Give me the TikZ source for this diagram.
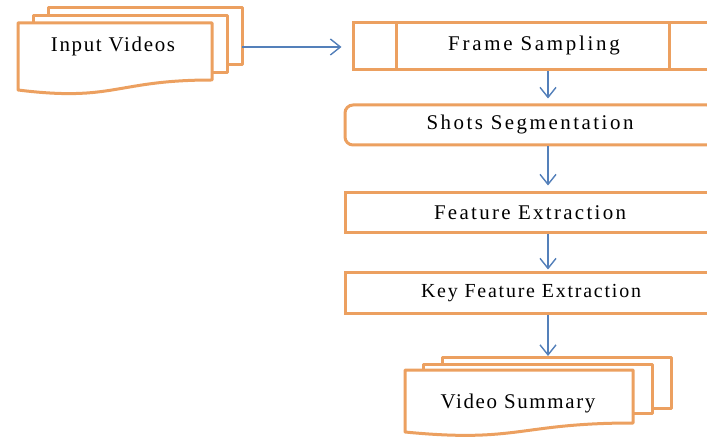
\documentclass[tikz,border=0pt]{standalone}
\usepackage{fontspec}
\setmainfont{Liberation Serif}
\usetikzlibrary{arrows.meta}
\definecolor{boxorange}{RGB}{236,160,96}
\definecolor{arrblue}{RGB}{84,128,186}
\tikzset{
  procbox/.style={draw=boxorange, line width=3bp, fill=white, inner sep=0pt},
  lbl/.style n args={2}{font=\fontsize{#1}{#1}\selectfont\addfontfeature{LetterSpace=#2}, inner sep=0pt},
  flowarr/.style={draw=arrblue, line width=1.4bp, -{Straight Barb[length=10bp,width=16bp,line width=1.4bp]}},
  docline/.style={draw=boxorange, line width=3bp, fill=white, line join=round}
}
\newcommand{\docshape}[5]{% x0 y0 x1 yright yleft
  \path[docline] (#1,#2) -- (#3,#2) -- (#3,#4)
    .. controls ({(#1+#3)/2},#4) and ({(#1+#3)/2},{#5+0.18*(#5-#2)}) .. (#1,#5) -- cycle;
}
\begin{document}
\begin{tikzpicture}[x=1bp,y=-1bp]
\clip (0,0) rectangle (707,439);
\fill[white] (0,0) rectangle (707,439);

% Input Videos (multi-document)
\path[docline] (48,8) rectangle (242,65);
\path[docline] (33,16) rectangle (227,73);
\docshape{18}{23}{212}{80}{90}
\node[lbl={21}{8}] (iv) at (113,46) {Input Videos};
\coordinate (ivright) at (242,47);

% Frame Sampling (predefined process)
\node[procbox, minimum width=360bp, minimum height=47bp] (fs) at (533,46.5) {};
\draw[boxorange, line width=3bp] ([xshift=45bp]fs.north west) -- ([xshift=45bp]fs.south west);
\draw[boxorange, line width=3bp] ([xshift=-45bp]fs.north east) -- ([xshift=-45bp]fs.south east);
\node[lbl={21}{13}] (fst) at (534,46) {Frame Sampling};

% Shots Segmentation
\node[procbox, rounded corners=8bp, minimum width=370bp, minimum height=40bp] (ss) at (530,125) {};
\node[lbl={21}{12}] (sst) at (530,125) {Shots Segmentation};

% Feature Extraction
\node[procbox, minimum width=370bp, minimum height=40bp] (fe) at (530,213) {};
\node[lbl={21}{11}] (fet) at (530,213) {Feature Extraction};

% Key Feature Extraction
\node[procbox, minimum width=372bp, minimum height=40bp] (kfe) at (531,293) {};
\node[lbl={20}{9}] (kfet) at (531,293) {Key Feature Extraction};

% Video Summary (multi-document)
\path[docline] (442,357) rectangle (671,408);
\path[docline] (423,364) rectangle (652,413);
\docshape{405}{370}{633}{423}{432}
\node[lbl={21}{8}] (vs) at (518,403) {Video Summary};
\coordinate (vstop) at (548,357);

% connectors
\coordinate (ax) at (548,0);
\draw[flowarr, shorten >=10bp] (ivright) -- (fs.west |- ivright);
\draw[flowarr, shorten >=5bp] (fs.south -| ax) -- (ss.north -| ax);
\draw[flowarr, shorten >=6bp] (ss.south -| ax) -- (fe.north -| ax);
\draw[flowarr, shorten >=2bp] (fe.south -| ax) -- (kfe.north -| ax);
\draw[flowarr, shorten >=1bp] (kfe.south -| ax) -- (vstop);
\end{tikzpicture}
\end{document}
